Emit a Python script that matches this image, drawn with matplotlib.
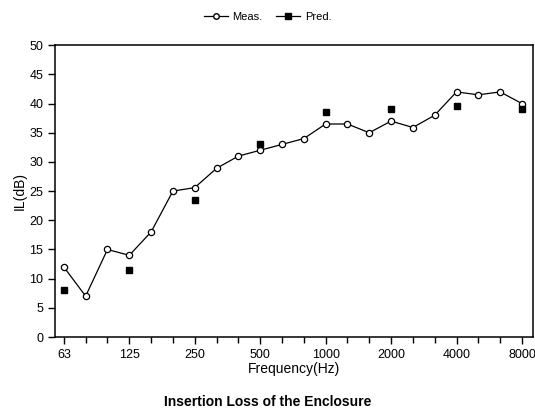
import matplotlib
matplotlib.use("Agg")
import matplotlib.pyplot as plt
import numpy as np

plt.rcParams['font.family'] = ['Liberation Sans', 'DejaVu Sans']

freqs = [63, 80, 100, 125, 160, 200, 250, 315, 400, 500, 630, 800,
         1000, 1250, 1600, 2000, 2500, 3150, 4000, 5000, 6300, 8000]
meas = [12, 7, 15, 14, 18, 25, 25.6, 28.9, 31, 32, 33, 34,
        36.5, 36.5, 35, 37, 35.9, 38, 42, 41.5, 42, 40]
pred_freqs = [63, 125, 250, 500, 1000, 2000, 4000, 8000]
pred = [8, 11.5, 23.4, 33, 38.5, 39, 39.5, 39]
xtick_labels = ['63', '125', '250', '500', '1000', '2000', '4000', '8000']

fig = plt.figure(figsize=(5.35, 4.11), dpi=100)
ax = fig.add_axes([0.103, 0.18, 0.893, 0.71])

xi = np.arange(len(freqs))
pxi = [freqs.index(f) for f in pred_freqs]

l1, = ax.plot(xi, meas, '-', color='black', lw=0.9, marker='o', ms=4.5,
              mfc='white', mec='black', mew=0.9, label='Meas.')
l2, = ax.plot(pxi, pred, 's', color='black', ms=5, label='Pred.')

ax.set_xlim(-0.4, 21.5)
ax.set_ylim(0, 50)
ax.set_yticks(np.arange(0, 51, 5))
major_idx = [freqs.index(int(t)) for t in xtick_labels]
ax.set_xticks(major_idx)
ax.set_xticklabels(xtick_labels)
ax.set_xticks(xi, minor=True)
ax.tick_params(axis='both', which='major', direction='out', length=5, width=1,
               labelsize=9)
ax.tick_params(axis='x', which='minor', direction='out', length=4, width=1)
for s in ax.spines.values():
    s.set_linewidth(1.1)

ax.set_xlabel('Frequency(Hz)', fontsize=10, labelpad=1)
ax.set_ylabel('IL(dB)', fontsize=10, labelpad=2)

h1 = plt.Line2D([], [], color='black', lw=0.9, marker='o', ms=4,
                mfc='white', mec='black')
h2 = plt.Line2D([], [], color='black', lw=0.9, marker='s', ms=4)
fig.legend([h1, h2], ['Meas.', 'Pred.'], loc='upper center',
           bbox_to_anchor=(0.5, 0.995), ncol=2, frameon=False, fontsize=8,
           handlelength=2.2, columnspacing=1.2, handletextpad=0.4)

fig.text(0.5, 0.022, 'Insertion Loss of the Enclosure', ha='center',
         va='center', fontsize=10, fontweight='bold')

fig.savefig('out.png', dpi=100)
